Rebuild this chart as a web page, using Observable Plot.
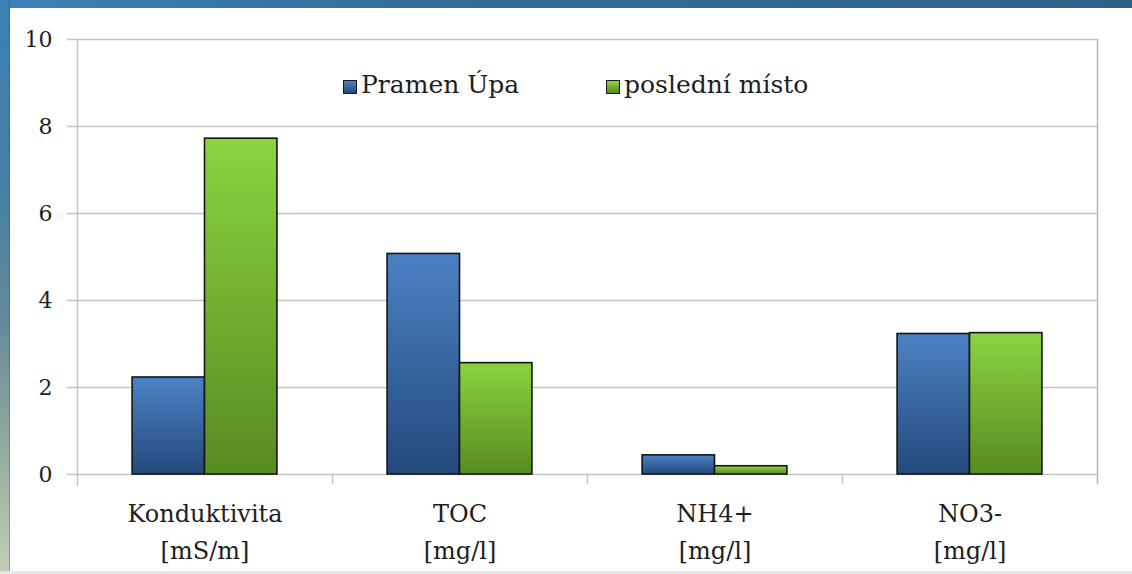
<!DOCTYPE html>
<html>
<head>
<meta charset="utf-8">
<script src="https://cdn.jsdelivr.net/npm/d3@7"></script>
<script src="https://cdn.jsdelivr.net/npm/@observablehq/plot@0.6"></script>
<style>
  html, body { margin: 0; padding: 0; background: #ffffff; }
  #wrap { position: relative; width: 1132px; height: 574px; overflow: hidden; background: #ffffff; }
  #topbar { position: absolute; left: 0; top: 0; width: 1132px; height: 8px;
    background: linear-gradient(to right, #3d82b4, #336f9a 35%, #2e6188 100%); }
  #leftbar { position: absolute; left: 0; top: 0; width: 10px; height: 574px;
    background: linear-gradient(to bottom, #3a80b2 0%, #437ea6 30%, #64889a 55%, #93ab9c 78%, #c2cfb5 100%);
    box-shadow: inset -1px 0 0 rgba(40,70,90,0.35); }
  #bottomline { position: absolute; left: 0; top: 571px; width: 1132px; height: 3px; background: #e6e6e6; }
  #chart { position: absolute; left: 0; top: 0; }
  .lg { position: absolute; font-family: "DejaVu Serif", serif; font-size: 25px; line-height: 30px; color: #1e1e1e; white-space: nowrap; }
  .sw { position: absolute; width: 12px; height: 12px; border: 1px solid #1a1a1a; }
</style>
</head>
<body>
<div id="wrap">
  <div id="chart"></div>
  <div id="topbar"></div>
  <div id="leftbar"></div>
  <div id="bottomline"></div>
</div>
<script>
// ---- data ----
const categories = ["Konduktivita", "TOC", "NH4+", "NO3-"];
const units = ["[mS/m]", "[mg/l]", "[mg/l]", "[mg/l]"];
const seriesNames = ["Pramen Úpa", "poslední místo"];
const pramenUpa = [2.23, 5.07, 0.44, 3.23];
const posledniMisto = [7.72, 2.56, 0.19, 3.25];
const yTicks = [0, 2, 4, 6, 8, 10];

// ---- table built from arrays ----
const rows = categories.map((c, i) => ({
  i, cat: c, unit: units[i], a: pramenUpa[i], b: posledniMisto[i]
}));

const half = 0.284; // half of group width, as fraction of category band
const gridColor = "#c3c3c3";

const chart = Plot.plot({
  width: 1132,
  height: 574,
  marginLeft: 77,
  marginRight: 35,
  marginTop: 39,
  marginBottom: 100,
  style: { fontFamily: "DejaVu Serif", background: "transparent", color: "#1e1e1e", overflow: "visible" },
  x: { domain: [0, categories.length], axis: null },
  y: { domain: [0, 10], axis: null },
  marks: [
    Plot.ruleY(yTicks, { stroke: gridColor, strokeWidth: 1.4, insetLeft: -10 }),
    Plot.ruleX([0], { stroke: gridColor, strokeWidth: 1.4, insetBottom: -12 }),
    Plot.ruleX([categories.length], { stroke: "#b8b8b8", strokeWidth: 1.6, insetBottom: -10 }),
    Plot.ruleX(d3.range(1, categories.length), { y1: 0, y2: 0, insetBottom: -10, stroke: gridColor, strokeWidth: 1.4 }),
    Plot.rectY(rows, {
      x1: d => d.i + 0.5 - half, x2: d => d.i + 0.5, y1: 0, y2: "a",
      fill: "url(#gradBlue)", stroke: "#151515", strokeWidth: 1.6
    }),
    Plot.rectY(rows, {
      x1: d => d.i + 0.5, x2: d => d.i + 0.5 + half, y1: 0, y2: "b",
      fill: "url(#gradGreen)", stroke: "#151515", strokeWidth: 1.6
    }),
    Plot.axisY({ ticks: yTicks, tickSize: 0, tickPadding: 25, fontSize: 22, fill: "#1e1e1e" }),
    Plot.text(rows, {
      x: d => d.i + 0.5, y: 0, text: d => d.cat + "\n" + d.unit,
      lineAnchor: "top", dy: 21, fontSize: 24, lineHeight: 1.55, fill: "#1e1e1e"
    })
  ]
});

// gradient definitions for bar fills
const ns = "http://www.w3.org/2000/svg";
const defs = document.createElementNS(ns, "defs");
function addGrad(id, top, bottom) {
  const g = document.createElementNS(ns, "linearGradient");
  g.setAttribute("id", id);
  g.setAttribute("x1", "0"); g.setAttribute("y1", "0");
  g.setAttribute("x2", "0"); g.setAttribute("y2", "1");
  [[0, top], [1, bottom]].forEach(([o, c]) => {
    const s = document.createElementNS(ns, "stop");
    s.setAttribute("offset", o);
    s.setAttribute("stop-color", c);
    g.appendChild(s);
  });
  defs.appendChild(g);
}
addGrad("gradBlue", "#4b82c4", "#24497b");
addGrad("gradGreen", "#8ad440", "#578b20");
chart.insertBefore(defs, chart.firstChild);

document.getElementById("chart").appendChild(chart);

// legend (HTML overlay inside the plot area)
const wrap = document.getElementById("wrap");
const legendItems = [
  { name: seriesNames[0], left: 343, bg: "linear-gradient(#4b82c4, #24497b)" },
  { name: seriesNames[1], left: 606, bg: "linear-gradient(#8ad440, #578b20)" }
];
legendItems.forEach(it => {
  const sw = document.createElement("div");
  sw.className = "sw";
  sw.style.left = it.left + "px";
  sw.style.top = "80px";
  sw.style.background = it.bg;
  wrap.appendChild(sw);
  const t = document.createElement("div");
  t.className = "lg";
  t.style.left = (it.left + 18) + "px";
  t.style.top = "70px";
  t.textContent = it.name;
  wrap.appendChild(t);
});
</script>
</body>
</html>
